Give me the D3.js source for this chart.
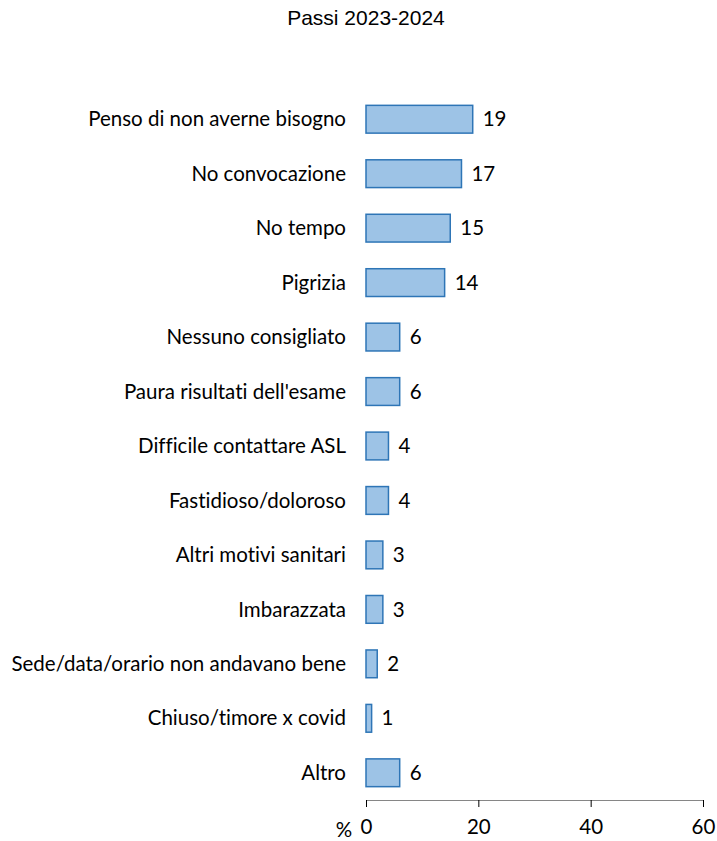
<!DOCTYPE html>
<html>
<head>
<meta charset="utf-8">
<script src="https://cdn.jsdelivr.net/npm/d3@7"></script>
<style>
  html, body { margin: 0; padding: 0; background: #fff; }
  svg { display: block; }
  text { font-variant-ligatures: none; font-feature-settings: "liga" 0; }
</style>
</head>
<body>
<svg id="chart" width="717" height="841"></svg>
<script>
const categories = [
  "Penso di non averne bisogno",
  "No convocazione",
  "No tempo",
  "Pigrizia",
  "Nessuno consigliato",
  "Paura risultati dell'esame",
  "Difficile contattare ASL",
  "Fastidioso/doloroso",
  "Altri motivi sanitari",
  "Imbarazzata",
  "Sede/data/orario non andavano bene",
  "Chiuso/timore x covid",
  "Altro"
];
const values = [19, 17, 15, 14, 6, 6, 4, 4, 3, 3, 2, 1, 6];
const xTicks = [0, 20, 40, 60];
const title = "Passi 2023-2024";

const svg = d3.select("#chart");
const font = "Lato, 'Open Sans', sans-serif";
const fs = 20.5;

const x = d3.scaleLinear().domain([0, 60]).range([366, 703]);
const y = d3.scaleBand().domain(categories).range([92, 800])
  .paddingInner(0.49).paddingOuter(0.245);

// Title
svg.append("text")
  .attr("x", 366).attr("y", 25)
  .attr("text-anchor", "middle")
  .attr("font-family", "'Liberation Sans', Arial, sans-serif")
  .attr("font-size", 21)
  .attr("fill", "#000")
  .text(title);

// Bars
svg.append("g").selectAll("rect")
  .data(values)
  .join("rect")
  .attr("x", x(0))
  .attr("y", (d, i) => y(categories[i]))
  .attr("width", d => x(d) - x(0))
  .attr("height", y.bandwidth())
  .attr("fill", "#9dc3e6")
  .attr("stroke", "#2e75b6")
  .attr("stroke-width", 1.5);

// Value labels
svg.append("g").selectAll("text")
  .data(values)
  .join("text")
  .attr("x", d => x(d) + 10)
  .attr("y", (d, i) => y(categories[i]) + y.bandwidth() / 2)
  .attr("dy", "0.35em")
  .attr("font-family", font)
  .attr("font-size", fs)
  .attr("fill", "#000")
  .text(d => d);

// Category labels
svg.append("g").selectAll("text")
  .data(categories)
  .join("text")
  .attr("x", 346)
  .attr("y", d => y(d) + y.bandwidth() / 2)
  .attr("dy", "0.35em")
  .attr("text-anchor", "end")
  .attr("font-family", font)
  .attr("font-size", fs)
  .attr("fill", "#000")
  .text(d => d);

// X axis
const axis = svg.append("g")
  .attr("transform", "translate(0,800)")
  .call(d3.axisBottom(x).tickValues(xTicks).tickSize(7).tickSizeOuter(0).tickPadding(12));
axis.select(".domain").attr("stroke", "#868686").attr("stroke-width", 1.2);
axis.selectAll(".tick line").attr("stroke", "#000").attr("stroke-width", 1);
axis.selectAll(".tick text")
  .attr("font-family", font)
  .attr("font-size", fs)
  .attr("fill", "#000");

svg.append("text")
  .attr("x", 344).attr("y", 830)
  .attr("dy", "0.35em")
  .attr("text-anchor", "middle")
  .attr("font-family", font)
  .attr("font-size", fs)
  .attr("fill", "#000")
  .text("%");
</script>
</body>
</html>
